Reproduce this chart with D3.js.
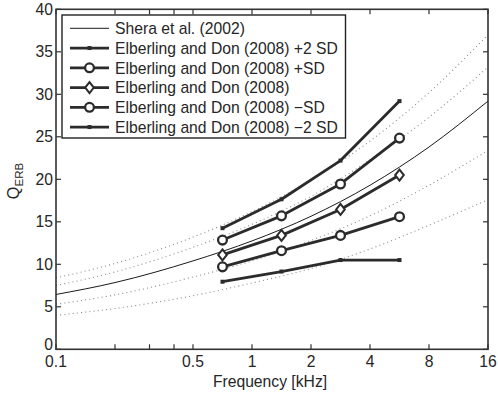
<!DOCTYPE html>
<html><head><meta charset="utf-8">
<script src="https://cdn.jsdelivr.net/npm/d3@7"></script>
<style>
body{margin:0;background:#fff;}
text{font-family:"Liberation Sans",Arial,Helvetica,sans-serif;fill:#262626;}
</style></head>
<body><svg id="c" width="498" height="393"></svg>
<script>
// ---- data ----
const freqs = [0.707, 1.414, 2.828, 5.657];
const plus2SD  = [14.25, 17.65, 22.2, 29.2];
const plus1SD  = [12.85, 15.7, 19.45, 24.85];
const meanED   = [11.1, 13.4, 16.45, 20.5];
const minus1SD = [9.7, 11.6, 13.4, 15.6];
const minus2SD = [7.95, 9.15, 10.5, 10.5];

const curveFreqs = [0.1, 0.2, 0.5, 1, 2, 4, 8, 16];
const shera      = [6.45, 7.85, 10.4, 12.75, 15.65, 19.3, 23.8, 29.2];
const sheraUp2   = [8.4, 10.1, 13.2, 16.2, 19.9, 24.5, 30.2, 37.0];
const sheraUp1   = [7.5, 9.1, 12.0, 14.7, 18.0, 22.3, 27.3, 33.2];
const sheraDn1   = [5.3, 6.4, 8.5, 10.4, 12.8, 15.7, 19.3, 23.4];
const sheraDn2   = [4.0, 4.8, 6.3, 7.8, 9.5, 11.8, 14.6, 17.6];

const xTicks = [0.1, 0.2, 0.3, 0.4, 0.5, 1, 2, 4, 8, 16];
const xTickLabels = {0.1:"0.1", 0.5:"0.5", 1:"1", 2:"2", 4:"4", 8:"8", 16:"16"};
const yTicks = [0, 5, 10, 15, 20, 25, 30, 35, 40];

const legendLabels = ["Shera et al. (2002)",
  "Elberling and Don (2008) +2 SD",
  "Elberling and Don (2008) +SD",
  "Elberling and Don (2008)",
  "Elberling and Don (2008) \u2212SD",
  "Elberling and Don (2008) \u22122 SD"];

// ---- layout ----
const L = 56, R = 488, T = 9.3, B = 349.3;
const FS = 15.7;
const svg = d3.select("#c");
const x = d3.scaleLog().domain([0.1, 16]).range([L, R]);
const y = d3.scaleLinear().domain([0, 40]).range([B, T]);
const ink = "#2b2b2b";

const line = d3.line().x(d => x(d[0])).y(d => y(d[1]));
const smooth = d3.line().x(d => x(d[0])).y(d => y(d[1])).curve(d3.curveMonotoneX);

// dotted curves
[sheraUp2, sheraUp1, sheraDn1, sheraDn2].forEach(s => {
  svg.append("path").attr("d", smooth(curveFreqs.map((f,i)=>[f,s[i]])))
    .attr("fill","none").attr("stroke","#8a8a8a").attr("stroke-width",1.1)
    .attr("stroke-dasharray","1,3.2");
});
// Shera solid
svg.append("path").attr("d", smooth(curveFreqs.map((f,i)=>[f,shera[i]])))
  .attr("fill","none").attr("stroke","#1a1a1a").attr("stroke-width",1);

// data series
const series = [
  {v: plus2SD, m: "dot"},
  {v: plus1SD, m: "circle"},
  {v: meanED, m: "diamond"},
  {v: minus1SD, m: "circle"},
  {v: minus2SD, m: "dot"}
];
function marker(g, type, cx, cy) {
  if (type === "dot") {
    g.append("rect").attr("x", cx-2).attr("y", cy-2).attr("width",4).attr("height",4)
      .attr("fill", ink);
  } else if (type === "circle") {
    g.append("circle").attr("cx", cx).attr("cy", cy).attr("r", 4.4)
      .attr("fill","#fff").attr("stroke", ink).attr("stroke-width", 2.3);
  } else if (type === "diamond") {
    g.append("path").attr("d", `M${cx},${cy-5.5}L${cx+4.3},${cy}L${cx},${cy+5.5}L${cx-4.3},${cy}Z`)
      .attr("fill","#fff").attr("stroke", ink).attr("stroke-width", 2);
  }
}
series.forEach(s => {
  const pts = freqs.map((f,i)=>[f, s.v[i]]);
  svg.append("path").attr("d", line(pts)).attr("fill","none")
    .attr("stroke", ink).attr("stroke-width", 2.8).attr("stroke-linejoin","round");
  const g = svg.append("g");
  pts.forEach(p => marker(g, s.m, x(p[0]), y(p[1])));
});

// axes box
const ax = svg.append("g");
ax.append("rect").attr("x", L).attr("y", T).attr("width", R-L).attr("height", B-T)
  .attr("fill","none").attr("stroke", "#333").attr("stroke-width", 1.6);
const tl = 5;
xTicks.forEach(t => {
  const px = x(t);
  ax.append("line").attr("x1",px).attr("x2",px).attr("y1",B).attr("y2",B-tl).attr("stroke","#333").attr("stroke-width",1.2);
  ax.append("line").attr("x1",px).attr("x2",px).attr("y1",T).attr("y2",T+tl).attr("stroke","#333").attr("stroke-width",1.2);
  if (xTickLabels[t]) {
    ax.append("text").attr("x", px).attr("y", B+17.5).attr("text-anchor","middle")
      .attr("font-size", FS).text(xTickLabels[t]);
  }
});
yTicks.forEach(t => {
  const py = y(t);
  ax.append("line").attr("x1",L).attr("x2",L+tl).attr("y1",py).attr("y2",py).attr("stroke","#333").attr("stroke-width",1.2);
  ax.append("line").attr("x1",R).attr("x2",R-tl).attr("y1",py).attr("y2",py).attr("stroke","#333").attr("stroke-width",1.2);
  ax.append("text").attr("x", L-3).attr("y", py + (t===0 ? 1 : 5.5)).attr("text-anchor","end")
    .attr("font-size", FS).text(t);
});

// axis labels
svg.append("text").attr("x", 270).attr("y", 387).attr("text-anchor","middle")
  .attr("font-size", FS).text("Frequency [kHz]");
const yl = svg.append("text").attr("transform","translate(19,181) rotate(-90)")
  .attr("text-anchor","middle").attr("font-size",FS+0.5);
yl.append("tspan").text("Q");
yl.append("tspan").attr("font-size",11.5).attr("dy",4).text("ERB");

// legend
const lg = svg.append("g");
lg.append("rect").attr("x",62).attr("y",15).attr("width",283.5).attr("height",123)
  .attr("fill","#fff").attr("stroke","#222").attr("stroke-width",1.4);
const rowY0 = 28.3, rowDy = 19.75;
legendLabels.forEach((lab, i) => {
  const ry = rowY0 + i*rowDy;
  if (i === 0) {
    lg.append("line").attr("x1",70).attr("x2",109).attr("y1",ry).attr("y2",ry)
      .attr("stroke","#1a1a1a").attr("stroke-width",1);
  } else {
    lg.append("line").attr("x1",70).attr("x2",109).attr("y1",ry).attr("y2",ry)
      .attr("stroke",ink).attr("stroke-width",2.8);
    marker(lg, series[i-1].m, 89.5, ry);
  }
  lg.append("text").attr("x",115).attr("y",ry+5.7).attr("font-size",FS).text(lab);
});
</script></body></html>
